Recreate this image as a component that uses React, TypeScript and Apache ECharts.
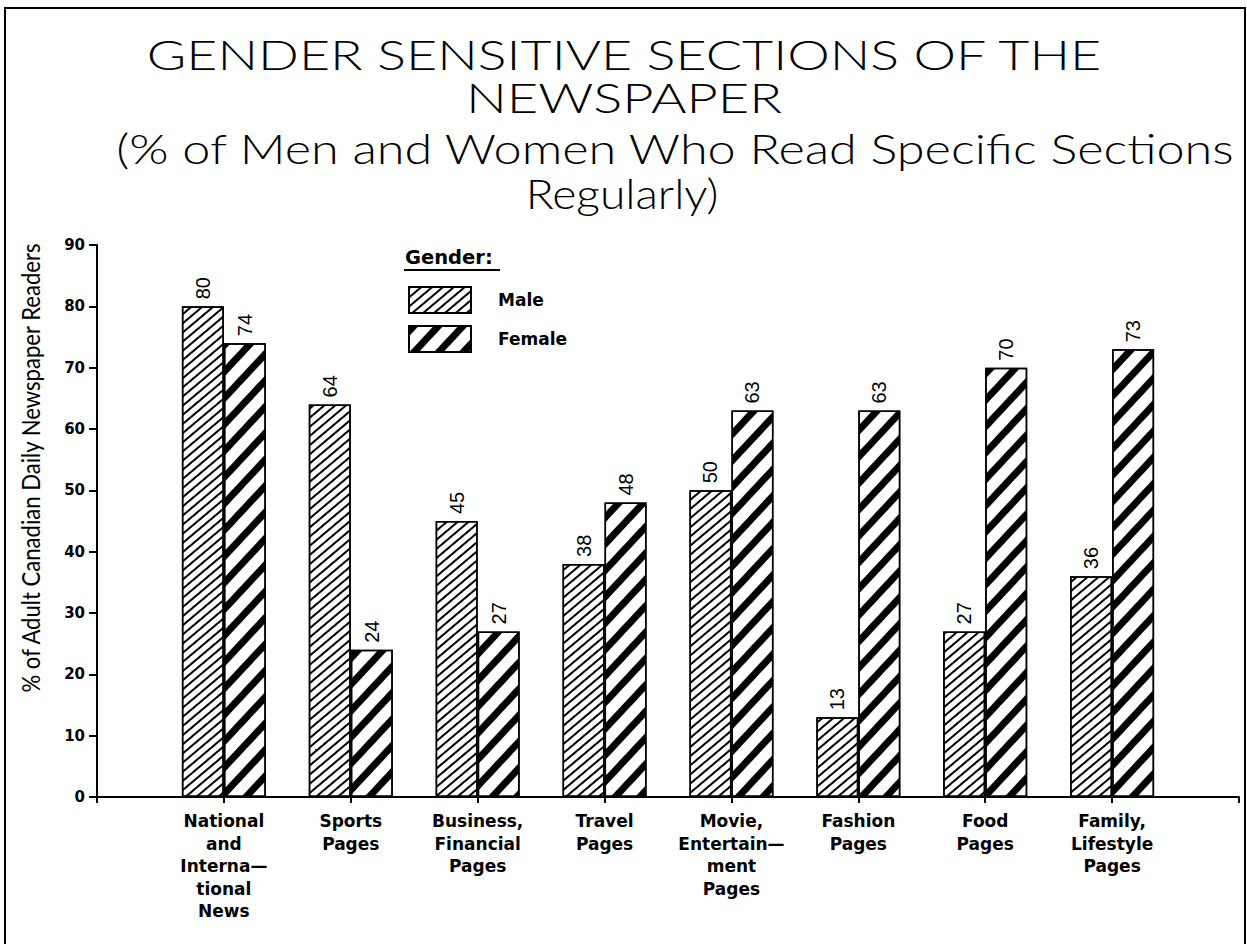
import React, { useEffect, useRef } from "react";
import * as echarts from "echarts";

const categories = [
  "National\nand\nInterna—\ntional\nNews",
  "Sports\nPages",
  "Business,\nFinancial\nPages",
  "Travel\nPages",
  "Movie,\nEntertain—\nment\nPages",
  "Fashion\nPages",
  "Food\nPages",
  "Family,\nLifestyle\nPages",
];
const maleValues = [80, 64, 45, 38, 50, 13, 27, 36];
const femaleValues = [74, 24, 27, 48, 63, 63, 70, 73];
const seriesNames = ["Male", "Female"];
const titleLines = [
  "GENDER SENSITIVE SECTIONS OF THE",
  "NEWSPAPER",
  "(% of Men and Women Who Read Specific Sections",
  "Regularly)",
];
const yAxisTitle = "% of Adult Canadian Daily Newspaper Readers";
const legendTitle = "Gender:";

const LABEL_FONT = "DejaVu Sans";
const TITLE_FONT = "Lato";
const NARROW_FONT = "Liberation Sans";

export default function App() {
  const ref = useRef<HTMLDivElement>(null);
  useEffect(() => {
    if (!ref.current) return;
    const chart = echarts.init(ref.current, undefined, { renderer: "svg" });
    const maleDecal = {
      symbol: "rect",
      symbolSize: 1,
      dashArrayX: [1, 0],
      dashArrayY: [1.5, 4.8],
      rotation: -0.7,
      color: "#000",
    };
    const femaleDecal = {
      symbol: "rect",
      symbolSize: 1,
      dashArrayX: [1, 0],
      dashArrayY: [7, 11],
      rotation: -0.82,
      color: "#000",
    };
    const valueLabel = {
      show: true,
      position: "top",
      rotate: 90,
      align: "left",
      verticalAlign: "middle",
      distance: 7,
      fontFamily: NARROW_FONT,
      fontWeight: "normal",
      fontSize: 20,
      color: "#000",
    };
    const titleY = [53, 97, 148, 192];
    const titleX = [624, 624, 675, 622];
    const titleScale = [1.28, 1.29, 1.2, 1.1];
    const option: any = {
      animation: false,
      backgroundColor: "#fff",
      grid: { left: 97, right: 8, top: 245, bottom: 147, containLabel: false },
      xAxis: {
        type: "value",
        min: 0,
        max: 9,
        interval: 1,
        splitLine: { show: false },
        axisLine: { show: true, lineStyle: { color: "#000", width: 2 } },
        axisTick: { show: true, length: 6, lineStyle: { color: "#000", width: 2 } },
        axisLabel: {
          show: true,
          margin: 13,
          fontFamily: LABEL_FONT,
          fontWeight: "bold",
          fontSize: 17,
          lineHeight: 22.5,
          color: "#000",
          align: "center",
          verticalAlign: "top",
          showMinLabel: true,
          showMaxLabel: true,
          formatter: (v: number) => (v >= 1 && v <= categories.length ? categories[v - 1] : ""),
        },
      },
      yAxis: {
        type: "value",
        min: 0,
        max: 90,
        interval: 10,
        splitLine: { show: false },
        axisLine: { show: true, lineStyle: { color: "#000", width: 2 } },
        axisTick: { show: true, length: 8, lineStyle: { color: "#000", width: 2 } },
        axisLabel: {
          margin: 12,
          fontFamily: LABEL_FONT,
          fontWeight: "bold",
          fontSize: 15,
          color: "#000",
        },
      },
      legend: {
        show: true,
        orient: "vertical",
        left: 408,
        top: 286,
        padding: 0,
        itemWidth: 62,
        itemHeight: 26,
        itemGap: 11,
        icon: "rect",
        data: seriesNames,
        textStyle: {
          fontFamily: LABEL_FONT,
          fontWeight: "bold",
          fontSize: 17,
          color: "#000",
          padding: [0, 0, 0, 22],
        },
      },
      series: [
        {
          name: seriesNames[0],
          type: "bar",
          barWidth: 42,
          barGap: "0%",
          data: maleValues.map((v, i) => [i + 1, v]),
          itemStyle: { color: "#fff", borderColor: "#000", borderWidth: 1.5, decal: maleDecal },
          label: valueLabel,
        },
        {
          name: seriesNames[1],
          type: "bar",
          barWidth: 42,
          barGap: "0%",
          data: femaleValues.map((v, i) => [i + 1, v]),
          itemStyle: { color: "#fff", borderColor: "#000", borderWidth: 1.5, decal: femaleDecal },
          label: valueLabel,
        },
      ],
      graphic: [
        {
          type: "rect",
          shape: { x: 5, y: 8, width: 1240, height: 960 },
          style: { fill: "none", stroke: "#000", lineWidth: 2 },
          silent: true,
        },
        ...titleLines.map((t, i) => ({
          type: "text",
          x: titleX[i],
          y: titleY[i],
          scaleX: titleScale[i],
          style: {
            text: t,
            font: `300 42px "${TITLE_FONT}"`,
            fill: "#000",
            textAlign: "center",
            textVerticalAlign: "middle",
          },
        })),
        {
          type: "text",
          x: 30,
          y: 468,
          rotation: Math.PI / 2,
          scaleX: 0.85,
          style: {
            text: yAxisTitle,
            font: `400 26px "${TITLE_FONT}"`,
            fill: "#000",
            textAlign: "center",
            textVerticalAlign: "middle",
          },
        },
        {
          type: "text",
          x: 405,
          y: 257,
          style: {
            text: legendTitle,
            font: `bold 19.5px "${LABEL_FONT}"`,
            fill: "#000",
            textAlign: "left",
            textVerticalAlign: "middle",
          },
        },
        {
          type: "line",
          shape: { x1: 404, y1: 270, x2: 500, y2: 270 },
          style: { stroke: "#000", lineWidth: 2 },
        },
      ],
    };
    chart.setOption(option);
    return () => chart.dispose();
  }, []);
  return (
    <div
      ref={ref}
      style={{ position: "fixed", left: 0, top: 0, width: 1247, height: 944, background: "#fff" }}
    />
  );
}
